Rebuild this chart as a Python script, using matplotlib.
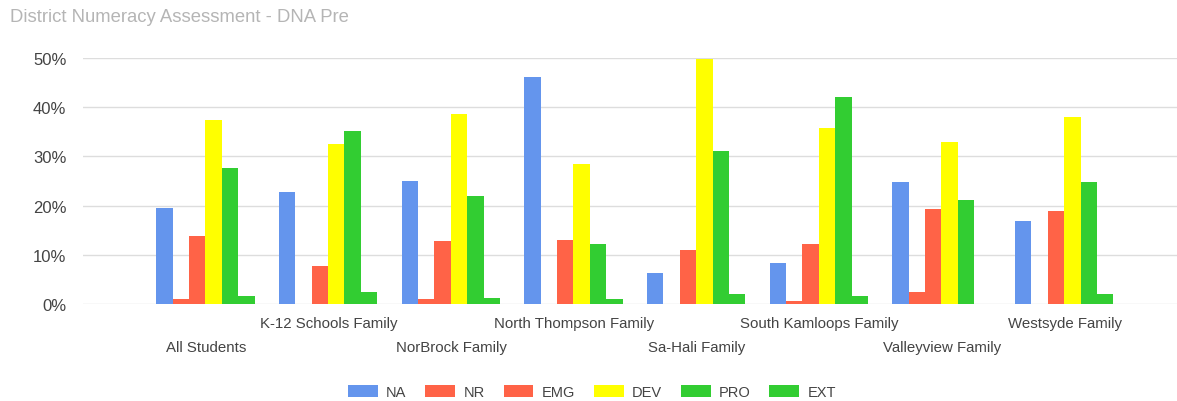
import numpy as np
import matplotlib
matplotlib.use("Agg")
import matplotlib.pyplot as plt

plt.rcParams['font.family'] = ['Liberation Sans', 'DejaVu Sans']

groups = ["All Students", "K-12 Schools Family", "NorBrock Family",
          "North Thompson Family", "Sa-Hali Family", "South Kamloops Family",
          "Valleyview Family", "Westsyde Family"]
series = ["NA", "NR", "EMG", "DEV", "PRO", "EXT"]
colors = ["#6495ED", "#FF6347", "#FF6347", "#FFFF00", "#32CD32", "#32CD32"]

na = [19.5, 22.8, 25.1, 46.1, 6.2, 8.2, 24.7, 16.9]
nr = [0.9, 0.0, 0.9, 0.0, 0.0, 0.6, 2.4, 0.0]
emg = [13.8, 7.7, 12.7, 13.0, 11.0, 12.1, 19.2, 18.9]
dev = [37.4, 32.5, 38.6, 28.5, 49.8, 35.7, 32.9, 38.0]
pro = [27.6, 35.2, 22.0, 12.1, 31.2, 42.2, 21.1, 24.7]
ext = [1.5, 2.3, 1.2, 1.0, 2.0, 1.5, 0.0, 2.0]
values = [na, nr, emg, dev, pro, ext]

fig = plt.figure(figsize=(11.77, 4.02), dpi=100)
ax = fig.add_axes([83 / 1177, 1 - 304.7 / 402, 1 - 83 / 1177, (304.7 - 59.3) / 402])

x = np.arange(len(groups))
w = 0.1336
for i, (name, vals, c) in enumerate(zip(series, values, colors)):
    ax.bar(x + (i - 2.5) * w, vals, width=w, color=c, label=name, zorder=3, clip_on=False)

ax.set_xlim(-0.998, 7.92)
ax.set_ylim(0, 50)
ax.set_yticks([0, 10, 20, 30, 40, 50])
ax.set_yticklabels(["0%", "10%", "20%", "30%", "40%", "50%"], color="#444444", fontsize=12)
ax.tick_params(axis="y", length=0, pad=12)
ax.grid(axis="y", color="#dddddd", lw=1, zorder=0)
for s in ax.spines.values():
    s.set_visible(False)

# staggered category labels
ax.set_xticks([])
for i, g in enumerate(groups):
    ypx = 348 if i % 2 == 0 else 324
    fig.text((205.8 + 122.7 * i) / 1177, 1 - ypx / 402, g, ha="center", va="center",
             fontsize=10.8, color="#444444")

fig.text(10 / 1177, 1 - 18 / 402, "District Numeracy Assessment - DNA Pre",
         ha="left", va="center", fontsize=13.3, color="#b5b5b5")

fig.legend(loc="center", bbox_to_anchor=(592 / 1177, 1 - 393 / 402), ncol=6, frameon=False,
           fontsize=10.5, handlelength=2.05, handleheight=0.85, handletextpad=0.55,
           columnspacing=1.3, labelcolor="#444444")

fig.savefig("out.png", dpi=100)
